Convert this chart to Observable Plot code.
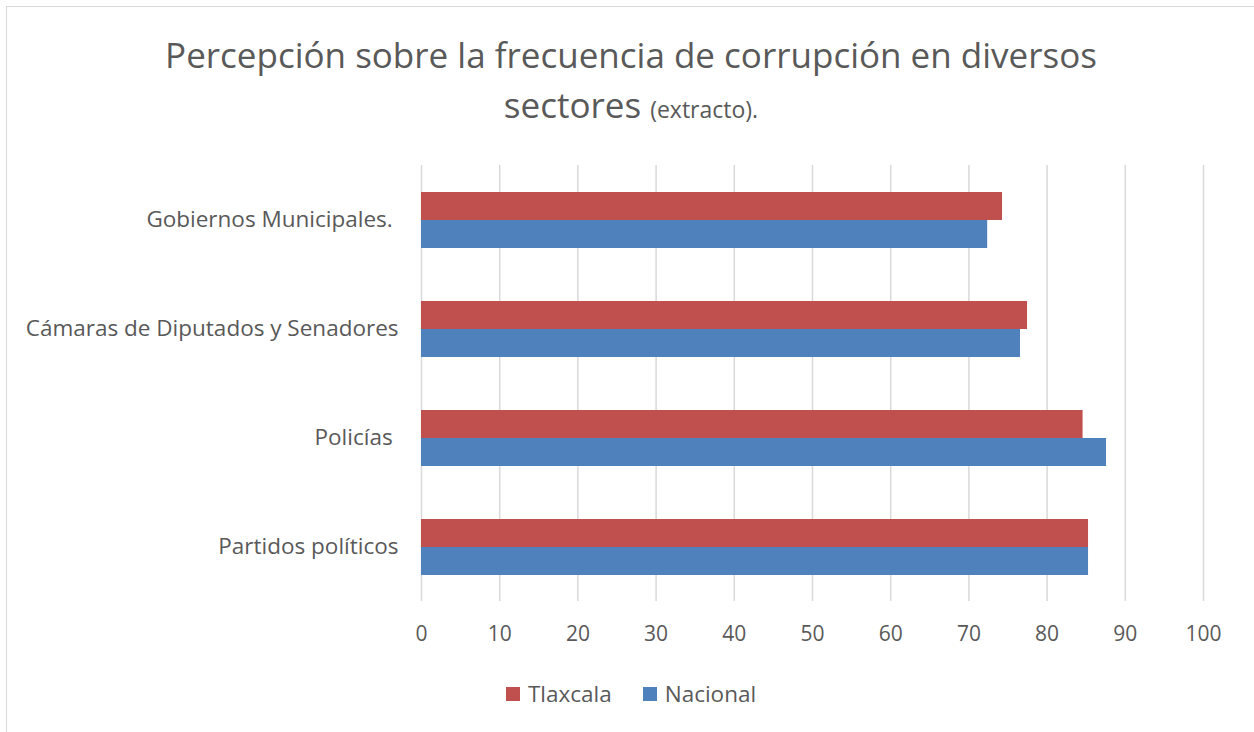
<!DOCTYPE html>
<html>
<head>
<meta charset="utf-8">
<script src="https://cdn.jsdelivr.net/npm/d3@7"></script>
<script src="https://cdn.jsdelivr.net/npm/@observablehq/plot@0.6"></script>
<style>
  html, body { margin: 0; padding: 0; background: #fff; }
  body { width: 1254px; height: 732px; overflow: hidden; position: relative; font-family: "Open Sans", sans-serif; color: #595959; }
  #frame { position: absolute; left: 6px; top: 6px; width: 1300px; height: 800px; border: 1.5px solid #d9d9d9; box-sizing: border-box; pointer-events: none; }
  #title { box-sizing: border-box; width: 1254px; padding-left: 8px; padding-top: 30px; height: 130px; text-align: center; font-size: 35px; line-height: 50px; color: #595959; }
  #title .small { font-size: 23px; }
  #chart svg { display: block; }
  #legend { box-sizing: border-box; width: 1254px; padding-left: 8px; margin-top: 30px; display: flex; justify-content: center; align-items: center; font-size: 22.5px; line-height: 24px; color: #595959; }
  #legend .item { display: flex; align-items: center; }
  #legend .sw { width: 14px; height: 14px; margin-right: 8px; }
  #legend .item + .item { margin-left: 31px; }
</style>
</head>
<body>
<div id="frame"></div>
<div id="title">Percepción sobre la frecuencia de corrupción en diversos<br>sectores <span class="small">(extracto).</span></div>
<div id="chart"></div>
<div id="legend"></div>
<script>
const categories = ["Gobiernos Municipales. ", "Cámaras de Diputados y Senadores", "Policías ", "Partidos políticos"];
const series = ["Tlaxcala", "Nacional"];
const tlaxcala = [74.3, 77.5, 84.6, 85.3];
const nacional = [72.4, 76.6, 87.6, 85.3];
const colors = ["#C0504D", "#4F81BD"];
const xTicks = [0, 10, 20, 30, 40, 50, 60, 70, 80, 90, 100];

const data = categories.flatMap((c, i) => [
  {category: c, series: series[0], value: tlaxcala[i]},
  {category: c, series: series[1], value: nacional[i]}
]);

const chart = Plot.plot({
  width: 1254,
  height: 522,
  marginTop: 33,
  marginBottom: 50,
  marginLeft: 421,
  marginRight: 51,
  style: {fontFamily: "'Open Sans', sans-serif", fontSize: "22px", color: "#595959", background: "transparent", overflow: "visible"},
  x: {domain: [0, 100]},
  y: {domain: series, axis: null, paddingInner: 0, paddingOuter: 0.93},
  fy: {domain: categories, padding: 0},
  color: {domain: series, range: colors},
  marks: [
    Plot.gridX(xTicks, {stroke: "#d9d9d9", strokeOpacity: 1, strokeWidth: 1.5}),
    Plot.barX(data, {x: "value", y: "series", fy: "category", fill: "series"}),
    Plot.axisX(xTicks, {anchor: "bottom", tickSize: 0, tickPadding: 25, label: null, fill: "#595959", fontSize: 21}),
    Plot.axisFy({anchor: "left", tickSize: 0, tickPadding: 23, label: null, fill: "#595959", fontSize: 22.5,
      tickFormat: d => d.replace(/ $/, "\u00a0")})
  ]
});
document.getElementById("chart").appendChild(chart);

const legend = document.getElementById("legend");
series.forEach((s, i) => {
  const item = document.createElement("div");
  item.className = "item";
  const sw = document.createElement("div");
  sw.className = "sw";
  sw.style.background = colors[i];
  const label = document.createElement("span");
  label.textContent = s;
  item.appendChild(sw);
  item.appendChild(label);
  legend.appendChild(item);
});
</script>
</body>
</html>
